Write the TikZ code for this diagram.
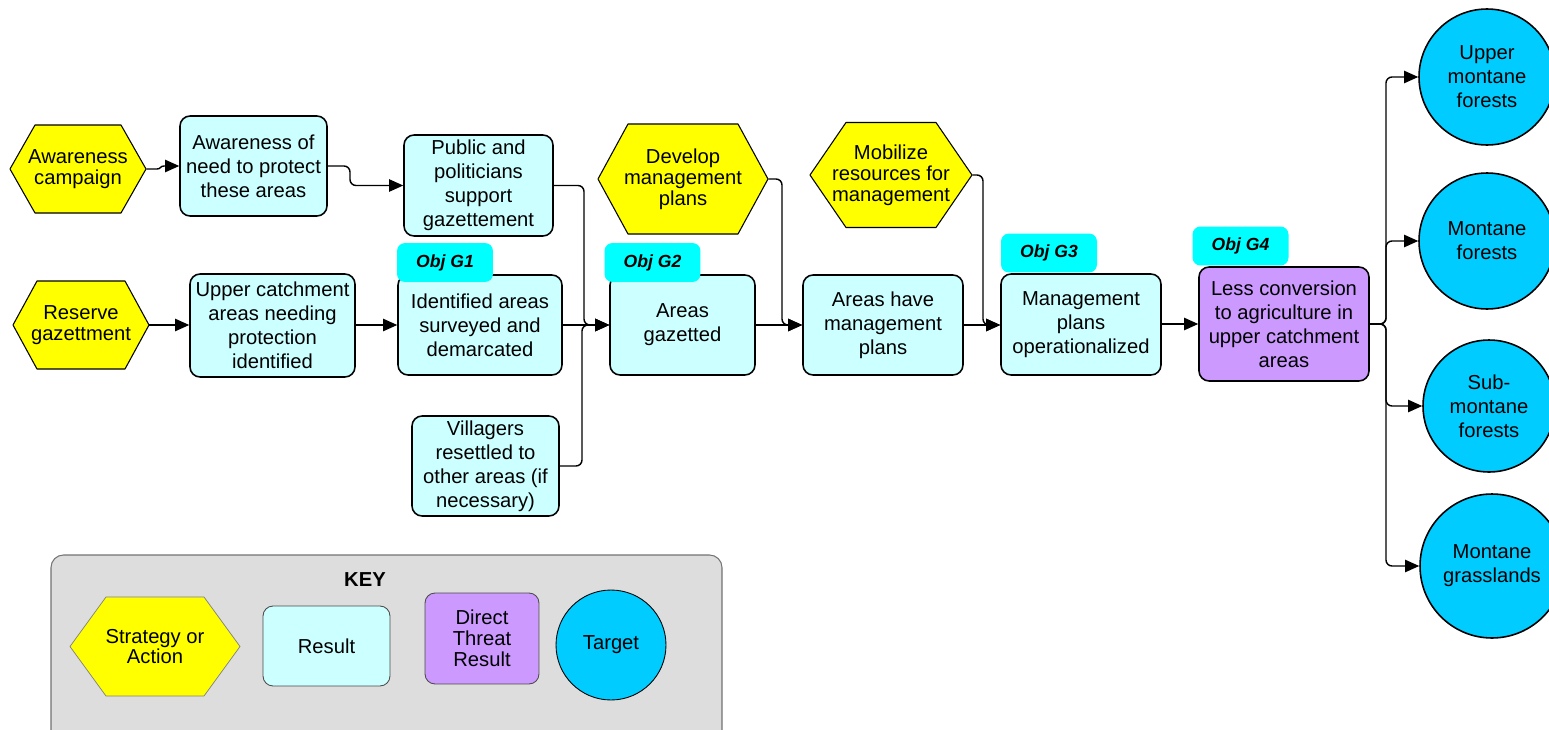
\documentclass[tikz,border=0pt]{standalone}
\usepackage{fontspec}
\setmainfont{Liberation Sans}
\usetikzlibrary{arrows.meta}

\definecolor{actyellow}{HTML}{FFFF00}
\definecolor{resfill}{HTML}{CCFFFF}
\definecolor{objfill}{HTML}{00FFFF}
\definecolor{threatfill}{HTML}{CC99FF}
\definecolor{targetfill}{HTML}{00CCFF}
\definecolor{keyfill}{HTML}{DDDDDD}

\tikzset{
  every node/.style={font=\fontsize{11.5}{13.6}\selectfont, align=center, inner sep=0pt},
  tightfont/.style={font=\fontsize{11.5}{11.9}\selectfont},
  resbox/.style={draw, line width=0.9pt, fill=resfill, rounded corners=0.2cm},
  threatbox/.style={resbox, fill=threatfill},
  hexfill/.style={draw, line width=0.6pt, fill=actyellow, line join=round},
  objtag/.style={fill=objfill, rounded corners=0.16cm, minimum width=1.92cm, minimum height=0.78cm,
    font=\fontsize{10}{12}\selectfont\bfseries\itshape},
  target/.style={circle, draw, line width=0.9pt, fill=targetfill},
  keyitem/.style={line width=0.5pt, draw=black!70, tightfont},
  conn/.style={line width=0.8pt, rounded corners=0.12cm, -{Triangle[length=8pt,width=7pt]}},
}

% hexagon: name, cx, cy, width, height, inset (all in px units), text
\newcommand\hexnode[8][]{%
  \draw[hexfill,#1] (#3,#4) ++({-#5/2},0) -- ++(#7,{-#6/2}) -- ++({#5-2*#7},0)
    -- ++(#7,{#6/2}) -- ++(-#7,{#6/2}) -- ++({-(#5-2*#7)},0) -- cycle;
  \node[tightfont, minimum width=#5*0.02cm, minimum height=#6*0.02cm] (#2) at (#3,#4) {#8};
}

\begin{document}
\begin{tikzpicture}[x=0.02cm, y=-0.02cm]
\useasboundingbox (0,0) rectangle (1549,730);

% ---- key panel ----
\draw[fill=keyfill, draw=black!55, line width=0.6pt, rounded corners=0.25cm] (51,555) rectangle (722,760);
\node[font=\fontsize{11.5}{13.6}\selectfont\bfseries] (keytitle) at (365,580) {KEY};
\hexnode[line width=0.4pt, draw=black!50]{khex}{155}{646.5}{170}{99}{36}{Strategy or\\Action}
\node[resbox, keyitem, minimum width=2.54cm, minimum height=1.6cm] (kres) at (326.5,646) {Result};
\node[threatbox, keyitem, minimum width=2.28cm, minimum height=1.82cm] (kthr) at (482,638.5) {Direct\\Threat\\Result};
\node[target, keyitem, draw=black, minimum size=2.2cm] (ktgt) at (611,645) {Target};

% ---- strategies ----
\hexnode{awc}{78}{169}{136}{88}{25}{Awareness\\campaign}
\hexnode{rsv}{81}{325}{136}{88}{24}{Reserve\\gazettment}
\hexnode{dev}{683}{179}{170}{110}{30}{Develop\\management\\plans}
\hexnode{mob}{891}{175}{162}{105}{36}{Mobilize\\resources for\\management}

% ---- results ----
\node[resbox, minimum width=2.94cm, minimum height=2.0cm] (aon) at (253.5,166) {Awareness of\\need to protect\\these areas};
\node[resbox, minimum width=2.98cm, minimum height=2.02cm] (pub) at (478.5,185.5) {Public and\\politicians\\support\\gazettement};
\node[resbox, minimum width=3.3cm, minimum height=2.06cm] (upc) at (272.5,325.5) {Upper catchment\\areas needing\\protection\\identified};
\node[resbox, minimum width=3.28cm, minimum height=2.0cm] (idf) at (480,325) {Identified areas\\surveyed and\\demarcated};
\node[resbox, minimum width=2.9cm, minimum height=2.0cm] (gaz) at (682.5,325) {Areas\\gazetted};
\node[resbox, minimum width=2.94cm, minimum height=2.0cm] (vil) at (485.5,466) {Villagers\\resettled to\\other areas (if\\necessary)};
\node[resbox, minimum width=3.2cm, minimum height=2.0cm] (mgp) at (883,325) {Areas have\\management\\plans};
\node[resbox, minimum width=3.2cm, minimum height=2.02cm] (opz) at (1081,324.5) {Management\\plans\\operationalized};
\node[threatbox, minimum width=3.4cm, minimum height=2.28cm] (less) at (1284,324) {Less conversion\\to agriculture in\\upper catchment\\areas};

% ---- objective tags ----
\node[objtag] (g1) at (445,262.5) {Obj G1};
\node[objtag] (g2) at (652.5,262.5) {Obj G2};
\node[objtag] (g3) at (1049,253) {Obj G3};
\node[objtag] (g4) at (1240.5,246) {Obj G4};

% ---- targets ----
\node[target, minimum size=2.72cm] (t1) at (1487,77) {Upper\\montane\\forests};
\node[target, minimum size=2.72cm] (t2) at (1487,241) {Montane\\forests};
\node[target, minimum size=2.64cm] (t3) at (1489,406) {Sub-\\montane\\forests};
\node[target, minimum size=2.88cm] (t4) at (1492,566) {Montane\\grasslands};

% ---- connectors ----
\draw[line width=0.8pt, -{Triangle[length=8pt,width=7pt]}] (awc.east) -- (157,169)
  .. controls (161,169) and (160,166) .. (164,166) -- (aon.west);
\draw[conn] (aon.east) -- (350,166) -- (350,185.5) -- (pub.west);
\draw[conn] (rsv.east) -- (upc.west |- rsv.east);
\draw[conn] (upc.east |- idf.west) -- (idf.west);
\draw[conn] (pub.east) -- (584,185.5) -- (584,325) -- (gaz.west);
\draw[conn] (vil.east) -- (582,466) -- (582,325) -- (gaz.west);
\draw[conn] (idf.east) -- (gaz.west);
\draw[conn] (gaz.east) -- (mgp.west);
\draw[conn] (dev.east) -- (782,179) -- (782,325) -- (mgp.west);
\draw[conn] (mgp.east) -- (opz.west |- mgp.east);
\draw[conn] (mob.east) -- (983,175) -- (983,325) -- (opz.west |- mgp.east);
\draw[conn] (opz.east |- less.west) -- (less.west);
\draw[conn] (less.east) -- (1386,324) -- (1386,77) -- (t1.west);
\draw[conn] (less.east) -- (1386,324) -- (1386,241) -- (t2.west);
\draw[conn] (less.east) -- (1386,324) -- (1386,406) -- (t3.west);
\draw[conn] (less.east) -- (1386,324) -- (1386,566) -- (t4.west);
\end{tikzpicture}
\end{document}
